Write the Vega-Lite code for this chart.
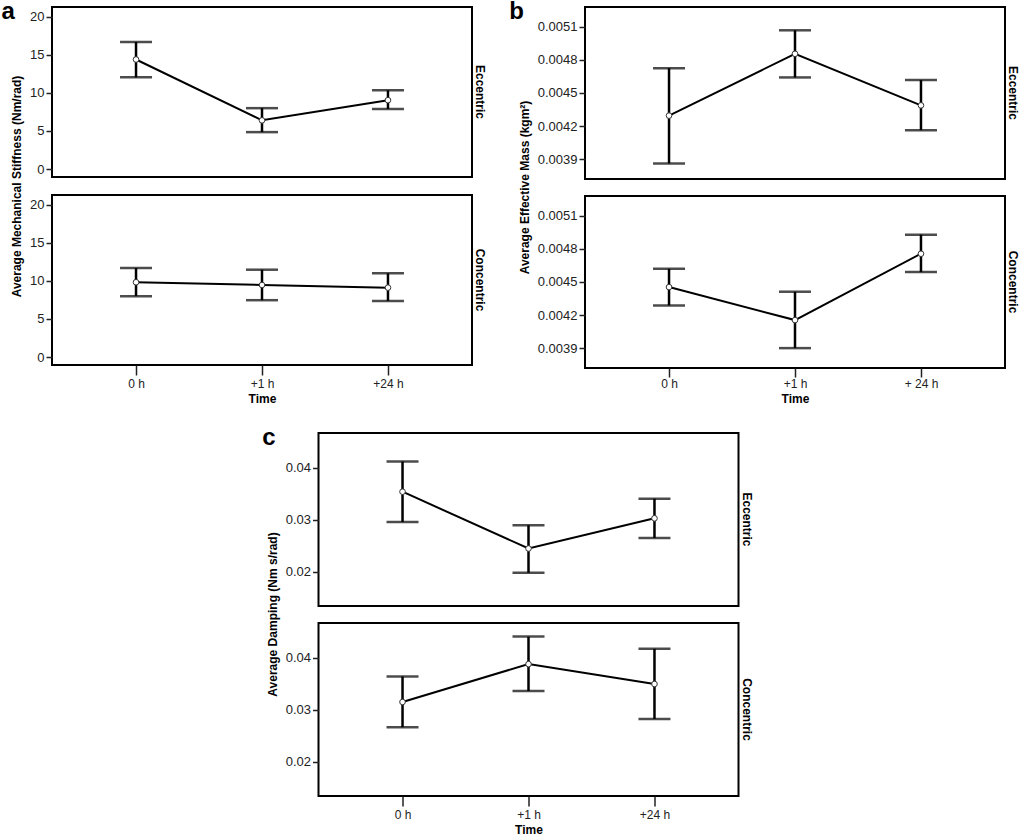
{
  "$schema": "https://vega.github.io/schema/vega-lite/v6.json",
  "padding": {"left": 1, "top": 0, "right": 0, "bottom": 3},
  "background": "white",
  "config": {
    "font": "Liberation Sans",
    "view": {"stroke": "black", "strokeWidth": 2},
    "axis": {"labelFont": "Liberation Sans", "labelFontSize": 12, "labelColor": "#222", "titleFont": "Liberation Sans", "titleFontSize": 12, "titleFontWeight": "bold", "titleColor": "#000", "tickColor": "#222", "tickWidth": 1.5, "domain": false, "grid": false},
    "axisY": {"tickSize": 6, "labelPadding": 2, "titlePadding": 6, "labelFontSize": 13},
    "axisX": {"tickSize": 10, "labelPadding": 3, "titlePadding": 4, "labelAngle": 0},
    "title": {"font": "Liberation Sans", "color": "#000"}
  },
  "datasets": {
    "stiffness": [
      {"condition": "Eccentric", "time": "0 h", "mean": 14.4, "lower": 12.05, "upper": 16.7},
      {"condition": "Eccentric", "time": "+1 h", "mean": 6.4, "lower": 4.85, "upper": 8.0},
      {"condition": "Eccentric", "time": "+24 h", "mean": 9.05, "lower": 7.9, "upper": 10.35},
      {"condition": "Concentric", "time": "0 h", "mean": 9.83, "lower": 8.0, "upper": 11.7},
      {"condition": "Concentric", "time": "+1 h", "mean": 9.47, "lower": 7.47, "upper": 11.48},
      {"condition": "Concentric", "time": "+24 h", "mean": 9.12, "lower": 7.38, "upper": 11.0}
    ],
    "mass": [
      {"condition": "Eccentric", "time": "0 h", "mean": 0.004294, "lower": 0.003861, "upper": 0.004724},
      {"condition": "Eccentric", "time": "+1 h", "mean": 0.004854, "lower": 0.00464, "upper": 0.005067},
      {"condition": "Eccentric", "time": "+ 24 h", "mean": 0.004387, "lower": 0.004162, "upper": 0.004616},
      {"condition": "Concentric", "time": "0 h", "mean": 0.004453, "lower": 0.004287, "upper": 0.004619},
      {"condition": "Concentric", "time": "+1 h", "mean": 0.004154, "lower": 0.0039, "upper": 0.004411},
      {"condition": "Concentric", "time": "+ 24 h", "mean": 0.004755, "lower": 0.004589, "upper": 0.004928}
    ],
    "damping": [
      {"condition": "Eccentric", "time": "0 h", "mean": 0.0354, "lower": 0.02957, "upper": 0.04121},
      {"condition": "Eccentric", "time": "+1 h", "mean": 0.02447, "lower": 0.0198, "upper": 0.02894},
      {"condition": "Eccentric", "time": "+24 h", "mean": 0.03028, "lower": 0.0265, "upper": 0.03406},
      {"condition": "Concentric", "time": "0 h", "mean": 0.0315, "lower": 0.02664, "upper": 0.03642},
      {"condition": "Concentric", "time": "+1 h", "mean": 0.03879, "lower": 0.03361, "upper": 0.04408},
      {"condition": "Concentric", "time": "+24 h", "mean": 0.03496, "lower": 0.02824, "upper": 0.04173}
    ]
  },
  "vconcat": [
    {
      "hconcat": [
        {
          "title": {"text": "a", "anchor": "start", "frame": "bounds", "fontSize": 24, "fontWeight": "bold", "offset": -18, "dx": -8, "baseline": "top"},
          "vconcat": [
            {
              "width": 420, "height": 170,
              "data": {"name": "stiffness"},
              "transform": [{"filter": "datum.condition === 'Eccentric'"}],
              "title": {"text": "Eccentric", "orient": "right", "anchor": "middle", "frame": "group", "fontSize": 12, "fontWeight": "bold", "offset": 1},
              "encoding": {"x": {"field": "time", "type": "ordinal", "scale": {"type": "point", "domain": ["0 h", "+1 h", "+24 h"], "padding": 0.667}, "axis": null}},
              "layer": [
                {"mark": {"type": "rule", "color": "black", "strokeWidth": 2.5}, "encoding": {"y": {"field": "lower", "type": "quantitative", "scale": {"domain": [-1.05, 21.3], "nice": false, "zero": false}, "axis": {"title": "Average Mechanical Stiffness (Nm/rad)", "titleY": 179, "values": [0, 5, 10, 15, 20]}}, "y2": {"field": "upper"}}},
                {"mark": {"type": "tick", "color": "black", "size": 32, "thickness": 2.5}, "encoding": {"y": {"field": "lower", "type": "quantitative"}}},
                {"mark": {"type": "tick", "color": "black", "size": 32, "thickness": 2.5}, "encoding": {"y": {"field": "upper", "type": "quantitative"}}},
                {"mark": {"type": "line", "color": "black", "strokeWidth": 2}, "encoding": {"y": {"field": "mean", "type": "quantitative"}, "order": {"value": null}}},
                {"mark": {"type": "point", "filled": true, "fill": "white", "stroke": "#333", "strokeWidth": 1, "size": 32, "opacity": 1}, "encoding": {"y": {"field": "mean", "type": "quantitative"}}}
              ]
            },
            {
              "width": 420, "height": 170,
              "data": {"name": "stiffness"},
              "transform": [{"filter": "datum.condition === 'Concentric'"}],
              "title": {"text": "Concentric", "orient": "right", "anchor": "middle", "frame": "group", "fontSize": 12, "fontWeight": "bold", "offset": 1},
              "encoding": {"x": {"field": "time", "type": "ordinal", "scale": {"type": "point", "domain": ["0 h", "+1 h", "+24 h"], "padding": 0.667}, "axis": {"title": "Time"}}},
              "layer": [
                {"mark": {"type": "rule", "color": "black", "strokeWidth": 2.5}, "encoding": {"y": {"field": "lower", "type": "quantitative", "scale": {"domain": [-1.05, 21.3], "nice": false, "zero": false}, "axis": {"title": null, "values": [0, 5, 10, 15, 20]}}, "y2": {"field": "upper"}}},
                {"mark": {"type": "tick", "color": "black", "size": 32, "thickness": 2.5}, "encoding": {"y": {"field": "lower", "type": "quantitative"}}},
                {"mark": {"type": "tick", "color": "black", "size": 32, "thickness": 2.5}, "encoding": {"y": {"field": "upper", "type": "quantitative"}}},
                {"mark": {"type": "line", "color": "black", "strokeWidth": 2}, "encoding": {"y": {"field": "mean", "type": "quantitative"}, "order": {"value": null}}},
                {"mark": {"type": "point", "filled": true, "fill": "white", "stroke": "#333", "strokeWidth": 1, "size": 32, "opacity": 1}, "encoding": {"y": {"field": "mean", "type": "quantitative"}}}
              ]
            }
          ],
          "spacing": 18,
          "bounds": "flush"
        },
        {
          "title": {"text": "b", "anchor": "start", "frame": "bounds", "fontSize": 24, "fontWeight": "bold", "offset": -18, "dx": -8, "baseline": "top"},
          "vconcat": [
            {
              "width": 420, "height": 172,
              "data": {"name": "mass"},
              "transform": [{"filter": "datum.condition === 'Eccentric'"}],
              "title": {"text": "Eccentric", "orient": "right", "anchor": "middle", "frame": "group", "fontSize": 12, "fontWeight": "bold", "offset": 1},
              "encoding": {"x": {"field": "time", "type": "ordinal", "scale": {"type": "point", "domain": ["0 h", "+1 h", "+ 24 h"], "padding": 0.667}, "axis": null}},
              "layer": [
                {"mark": {"type": "rule", "color": "black", "strokeWidth": 2.5}, "encoding": {"y": {"field": "lower", "type": "quantitative", "scale": {"domain": [0.00372, 0.005278], "nice": false, "zero": false}, "axis": {"title": "Average Effective Mass (kgm²)", "titleY": 180, "values": [0.0039, 0.0042, 0.0045, 0.0048, 0.0051], "format": ".4f"}}, "y2": {"field": "upper"}}},
                {"mark": {"type": "tick", "color": "black", "size": 32, "thickness": 2.5}, "encoding": {"y": {"field": "lower", "type": "quantitative"}}},
                {"mark": {"type": "tick", "color": "black", "size": 32, "thickness": 2.5}, "encoding": {"y": {"field": "upper", "type": "quantitative"}}},
                {"mark": {"type": "line", "color": "black", "strokeWidth": 2}, "encoding": {"y": {"field": "mean", "type": "quantitative"}, "order": {"value": null}}},
                {"mark": {"type": "point", "filled": true, "fill": "white", "stroke": "#333", "strokeWidth": 1, "size": 32, "opacity": 1}, "encoding": {"y": {"field": "mean", "type": "quantitative"}}}
              ]
            },
            {
              "width": 420, "height": 172,
              "data": {"name": "mass"},
              "transform": [{"filter": "datum.condition === 'Concentric'"}],
              "title": {"text": "Concentric", "orient": "right", "anchor": "middle", "frame": "group", "fontSize": 12, "fontWeight": "bold", "offset": 1},
              "encoding": {"x": {"field": "time", "type": "ordinal", "scale": {"type": "point", "domain": ["0 h", "+1 h", "+ 24 h"], "padding": 0.667}, "axis": {"title": "Time", "tickSize": 9, "labelPadding": 1}}},
              "layer": [
                {"mark": {"type": "rule", "color": "black", "strokeWidth": 2.5}, "encoding": {"y": {"field": "lower", "type": "quantitative", "scale": {"domain": [0.00372, 0.005278], "nice": false, "zero": false}, "axis": {"title": null, "values": [0.0039, 0.0042, 0.0045, 0.0048, 0.0051], "format": ".4f"}}, "y2": {"field": "upper"}}},
                {"mark": {"type": "tick", "color": "black", "size": 32, "thickness": 2.5}, "encoding": {"y": {"field": "lower", "type": "quantitative"}}},
                {"mark": {"type": "tick", "color": "black", "size": 32, "thickness": 2.5}, "encoding": {"y": {"field": "upper", "type": "quantitative"}}},
                {"mark": {"type": "line", "color": "black", "strokeWidth": 2}, "encoding": {"y": {"field": "mean", "type": "quantitative"}, "order": {"value": null}}},
                {"mark": {"type": "point", "filled": true, "fill": "white", "stroke": "#333", "strokeWidth": 1, "size": 32, "opacity": 1}, "encoding": {"y": {"field": "mean", "type": "quantitative"}}}
              ]
            }
          ],
          "spacing": 17,
          "bounds": "flush"
        }
      ],
      "spacing": 22,
      "align": "none"
    },
    {
      "title": {"text": "c", "anchor": "start", "frame": "bounds", "fontSize": 24, "fontWeight": "bold", "offset": -18, "dx": -3, "baseline": "top"},
      "vconcat": [
        {
          "width": 420, "height": 173,
          "data": {"name": "damping"},
          "transform": [{"filter": "datum.condition === 'Eccentric'"}],
          "title": {"text": "Eccentric", "orient": "right", "anchor": "middle", "frame": "group", "fontSize": 12, "fontWeight": "bold", "offset": 1},
          "encoding": {"x": {"field": "time", "type": "ordinal", "scale": {"type": "point", "domain": ["0 h", "+1 h", "+24 h"], "padding": 0.667}, "axis": null}},
          "layer": [
            {"mark": {"type": "rule", "color": "black", "strokeWidth": 2.5}, "encoding": {"y": {"field": "lower", "type": "quantitative", "scale": {"domain": [0.0134, 0.0467], "nice": false, "zero": false}, "axis": {"title": "Average Damping (Nm s/rad)", "titleY": 181, "values": [0.02, 0.03, 0.04], "format": ".2f"}}, "y2": {"field": "upper"}}},
            {"mark": {"type": "tick", "color": "black", "size": 32, "thickness": 2.5}, "encoding": {"y": {"field": "lower", "type": "quantitative"}}},
            {"mark": {"type": "tick", "color": "black", "size": 32, "thickness": 2.5}, "encoding": {"y": {"field": "upper", "type": "quantitative"}}},
            {"mark": {"type": "line", "color": "black", "strokeWidth": 2}, "encoding": {"y": {"field": "mean", "type": "quantitative"}, "order": {"value": null}}},
            {"mark": {"type": "point", "filled": true, "fill": "white", "stroke": "#333", "strokeWidth": 1, "size": 32, "opacity": 1}, "encoding": {"y": {"field": "mean", "type": "quantitative"}}}
          ]
        },
        {
          "width": 420, "height": 173,
          "data": {"name": "damping"},
          "transform": [{"filter": "datum.condition === 'Concentric'"}],
          "title": {"text": "Concentric", "orient": "right", "anchor": "middle", "frame": "group", "fontSize": 12, "fontWeight": "bold", "offset": 1},
          "encoding": {"x": {"field": "time", "type": "ordinal", "scale": {"type": "point", "domain": ["0 h", "+1 h", "+24 h"], "padding": 0.667}, "axis": {"title": "Time"}}},
          "layer": [
            {"mark": {"type": "rule", "color": "black", "strokeWidth": 2.5}, "encoding": {"y": {"field": "lower", "type": "quantitative", "scale": {"domain": [0.0134, 0.0467], "nice": false, "zero": false}, "axis": {"title": null, "values": [0.02, 0.03, 0.04], "format": ".2f"}}, "y2": {"field": "upper"}}},
            {"mark": {"type": "tick", "color": "black", "size": 32, "thickness": 2.5}, "encoding": {"y": {"field": "lower", "type": "quantitative"}}},
            {"mark": {"type": "tick", "color": "black", "size": 32, "thickness": 2.5}, "encoding": {"y": {"field": "upper", "type": "quantitative"}}},
            {"mark": {"type": "line", "color": "black", "strokeWidth": 2}, "encoding": {"y": {"field": "mean", "type": "quantitative"}, "order": {"value": null}}},
            {"mark": {"type": "point", "filled": true, "fill": "white", "stroke": "#333", "strokeWidth": 1, "size": 32, "opacity": 1}, "encoding": {"y": {"field": "mean", "type": "quantitative"}}}
          ]
        }
      ],
      "spacing": 17,
      "bounds": "flush"
    }
  ],
  "spacing": 21,
  "align": "each",
  "center": true
}
